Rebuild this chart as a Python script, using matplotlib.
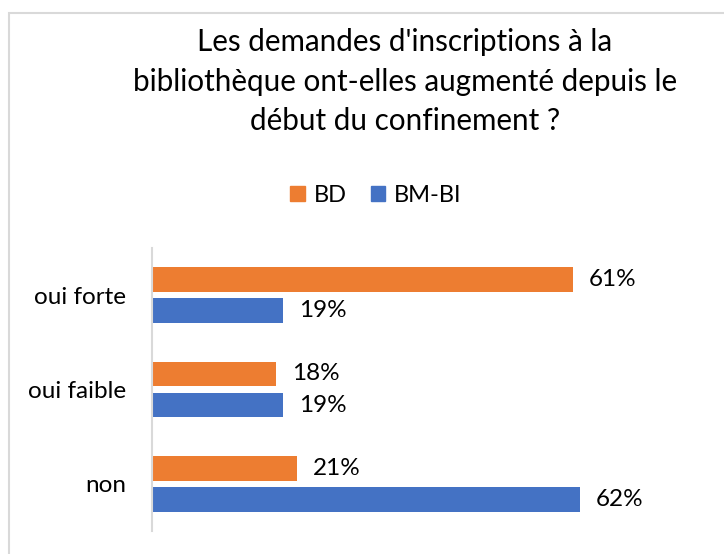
import matplotlib.pyplot as plt
from matplotlib.patches import Rectangle, Patch

plt.rcParams['font.family'] = ['Lato', 'DejaVu Sans']

categories = ['oui forte', 'oui faible', 'non']
bd = [0.61, 0.18, 0.21]
bm_bi = [0.19, 0.19, 0.62]
series_names = ['BD', 'BM-BI']
orange = '#ED7D31'
blue = '#4472C4'

fig = plt.figure(figsize=(7.24, 5.54), dpi=100)

# cadre gris autour du graphique
fig.add_artist(Rectangle((9 / 724, -0.05), 1.2, (554 - 13) / 554 + 0.05,
                         transform=fig.transFigure, fill=False,
                         edgecolor='#d9d9d9', linewidth=1.5))

ax = fig.add_axes([152 / 724, 23 / 554, 538 / 724, 283 / 554])

y = list(range(len(categories)))
h = 0.26
off = 0.165
ax.barh([i - off for i in y], bd, height=h, color=orange)
ax.barh([i + off for i in y], bm_bi, height=h, color=blue)

for i in y:
    ax.annotate(f'{bd[i]:.0%}', (bd[i], i - off), xytext=(11.5, 0),
                textcoords='offset points', va='center', ha='left', fontsize=17.5)
    ax.annotate(f'{bm_bi[i]:.0%}', (bm_bi[i], i + off), xytext=(11.5, 0),
                textcoords='offset points', va='center', ha='left', fontsize=17.5)

ax.set_xlim(0, 0.78)
ax.set_ylim(len(categories) - 0.5, -0.5)
ax.set_yticks(y)
ax.set_yticklabels(categories, fontsize=17.5)
ax.tick_params(axis='y', length=0, pad=18.5)
ax.set_xticks([])
for s in ['top', 'right', 'bottom']:
    ax.spines[s].set_visible(False)
ax.spines['left'].set_color('#d9d9d9')
ax.spines['left'].set_linewidth(1.5)

fig.text(0.559, 1 - 82 / 554, "Les demandes d'inscriptions à la\nbibliothèque ont-elles augmenté depuis le\ndébut du confinement ?",
         ha='center', va='center', fontsize=21.3, linespacing=1.5)

handles = [Patch(color=orange), Patch(color=blue)]
fig.legend(handles, series_names, loc='center', bbox_to_anchor=(376 / 724, 1 - 195 / 554),
           ncol=2, frameon=False, fontsize=17, handlelength=0.6, handleheight=0.6,
           handletextpad=0.4, columnspacing=1.0)

fig.savefig('out.png', dpi=100)
